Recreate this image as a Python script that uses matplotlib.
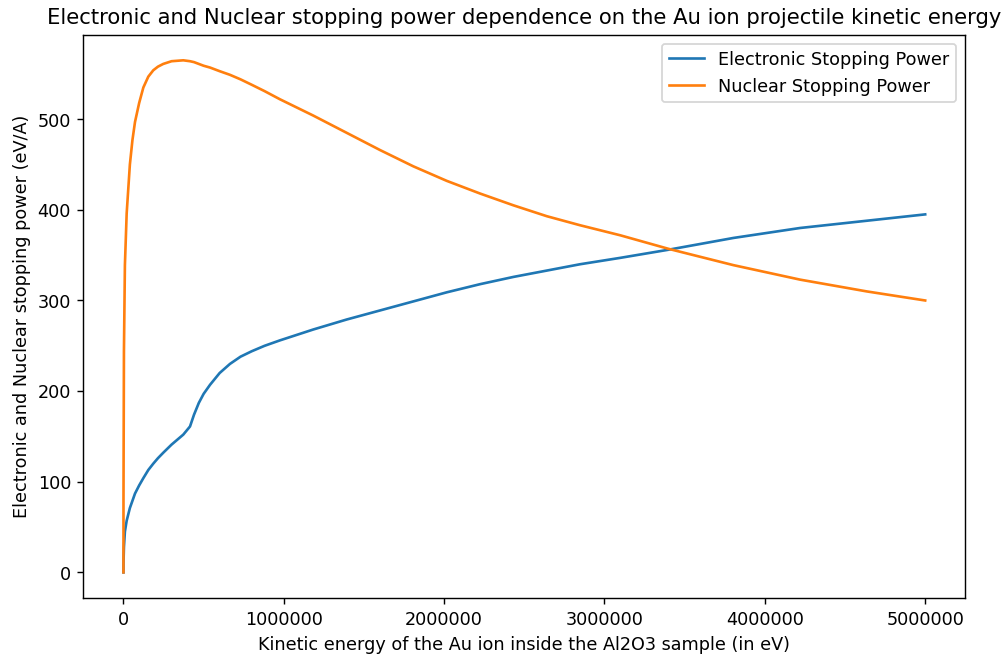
import matplotlib
matplotlib.use("Agg")
import matplotlib.pyplot as plt

energy = [0, 200, 1000, 3000, 9000, 20000, 40000, 56000, 72000, 98000, 124000,
          155000, 186000, 215000, 248000,
          300000, 373000, 415000, 440000, 470000, 500000, 540000, 600000, 664000,
          730000, 800000, 880000, 976000, 1184000, 1392000, 1600000, 1808000,
          2016000, 2224000, 2432000, 2640000, 2848000, 3097000, 3399000, 3804000,
          4220000, 4636000, 5000000]

electronic = [0, 7, 15, 28, 45, 57, 71, 79, 87, 96, 104,
              113, 120, 126, 132,
              141, 152, 161, 174, 187, 197, 207, 220, 230,
              238, 244, 250, 256, 268, 279, 289, 299,
              309, 318, 326, 333, 340, 347, 356, 369,
              380, 388, 395]

nuclear = [0, 80, 130, 244, 339, 396, 450, 477, 497, 518, 535,
           547, 554, 558, 561,
           564, 565, 564, 563, 561, 559, 557, 553, 549,
           544, 538, 531, 522, 504, 485, 466, 448,
           432, 418, 405, 393, 383, 372, 357, 339,
           323, 310, 300]

DPI = 127
fig = plt.figure(figsize=(1003.3 / DPI, 654.3 / DPI), dpi=DPI)
ax = fig.add_axes([0.0831, 0.0856, 0.8790, 0.8609])
ax.plot(energy, electronic, label="Electronic Stopping Power")
ax.plot(energy, nuclear, label="Nuclear Stopping Power")
ax.ticklabel_format(axis="x", style="plain", useOffset=False)
ax.set_title("Electronic and Nuclear stopping power dependence on the Au ion projectile kinetic energy")
ax.set_xlabel("Kinetic energy of the Au ion inside the Al2O3 sample (in eV)")
ax.set_ylabel("Electronic and Nuclear stopping power (eV/A)")
ax.legend(loc="upper right")
fig.savefig("out.png", dpi=DPI)
